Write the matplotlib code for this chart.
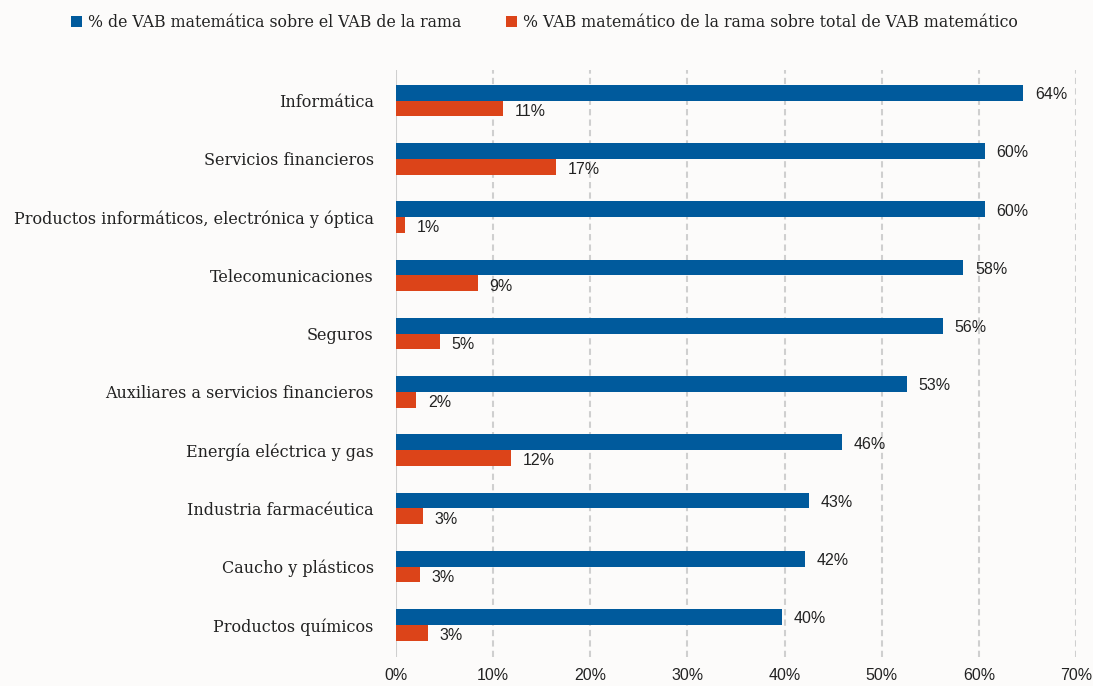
import matplotlib.pyplot as plt
import numpy as np

categories = ["Informática", "Servicios financieros",
              "Productos informáticos, electrónica y óptica",
              "Telecomunicaciones", "Seguros",
              "Auxiliares a servicios financieros",
              "Energía eléctrica y gas", "Industria farmacéutica",
              "Caucho y plásticos", "Productos químicos"]
vab_rama = [64.6, 60.6, 60.6, 58.4, 56.3, 52.6, 45.9, 42.5, 42.1, 39.7]
vab_total = [11.0, 16.5, 0.9, 8.4, 4.5, 2.1, 11.8, 2.8, 2.5, 3.3]
label_rama = ["64%", "60%", "60%", "58%", "56%", "53%", "46%", "43%", "42%", "40%"]
label_total = ["11%", "17%", "1%", "9%", "5%", "2%", "12%", "3%", "3%", "3%"]
xticks = [0, 10, 20, 30, 40, 50, 60, 70]
legend_names = ["% de VAB matemática sobre el VAB de la rama",
                "% VAB matemático de la rama sobre total de VAB matemático"]

blue = "#005A9C"
orange = "#DC4419"
bg = "#FCFBFA"
serif = "DejaVu Serif"
sans = "Liberation Sans"

fig = plt.figure(figsize=(10.93, 6.86), dpi=100, facecolor=bg)
ax = fig.add_axes([0.3623, 0.0423, 0.6221, 0.856])
ax.set_facecolor(bg)

y = np.arange(len(categories))
h = 0.27
ax.barh(y - h / 2, vab_rama, height=h, color=blue, label=legend_names[0], zorder=3)
ax.barh(y + h / 2, vab_total, height=h, color=orange, label=legend_names[1], zorder=3)

for i in range(len(categories)):
    ax.text(vab_rama[i] + 1.2, y[i] - h / 2 + 0.03, label_rama[i], va="center", ha="left",
            fontsize=11.5, family=sans, color="#222222")
    ax.text(vab_total[i] + 1.2, y[i] + h / 2 + 0.05, label_total[i], va="center", ha="left",
            fontsize=11.5, family=sans, color="#222222")

ax.set_ylim(len(categories) - 0.45, -0.53)
ax.set_xlim(0, 70)
ax.set_yticks(y)
ax.set_yticklabels(categories, family=serif, fontsize=11.5, color="#222222")
ax.set_xticks(xticks)
ax.set_xticklabels([f"{t}%" for t in xticks], family=sans, fontsize=11.5, color="#222222")
ax.tick_params(length=0)
ax.tick_params(axis="y", pad=16)
ax.tick_params(axis="x", pad=8)

for t in xticks[1:]:
    ax.axvline(t, color="#cfcfcf", linestyle=(0, (3, 2)), linewidth=1.5, zorder=1)
ax.axvline(0, color="#cfcfcf", linewidth=1.5, zorder=1)
for s in ax.spines.values():
    s.set_visible(False)

leg = fig.legend(loc="upper center", bbox_to_anchor=(0.498, 1.0), ncol=2, frameon=False,
                 prop={"family": serif, "size": 11.3}, handlelength=0.7, handleheight=0.7,
                 handletextpad=0.4, columnspacing=2.8)
for t in leg.get_texts():
    t.set_color("#222222")

fig.savefig("out.png", dpi=100, facecolor=bg)
